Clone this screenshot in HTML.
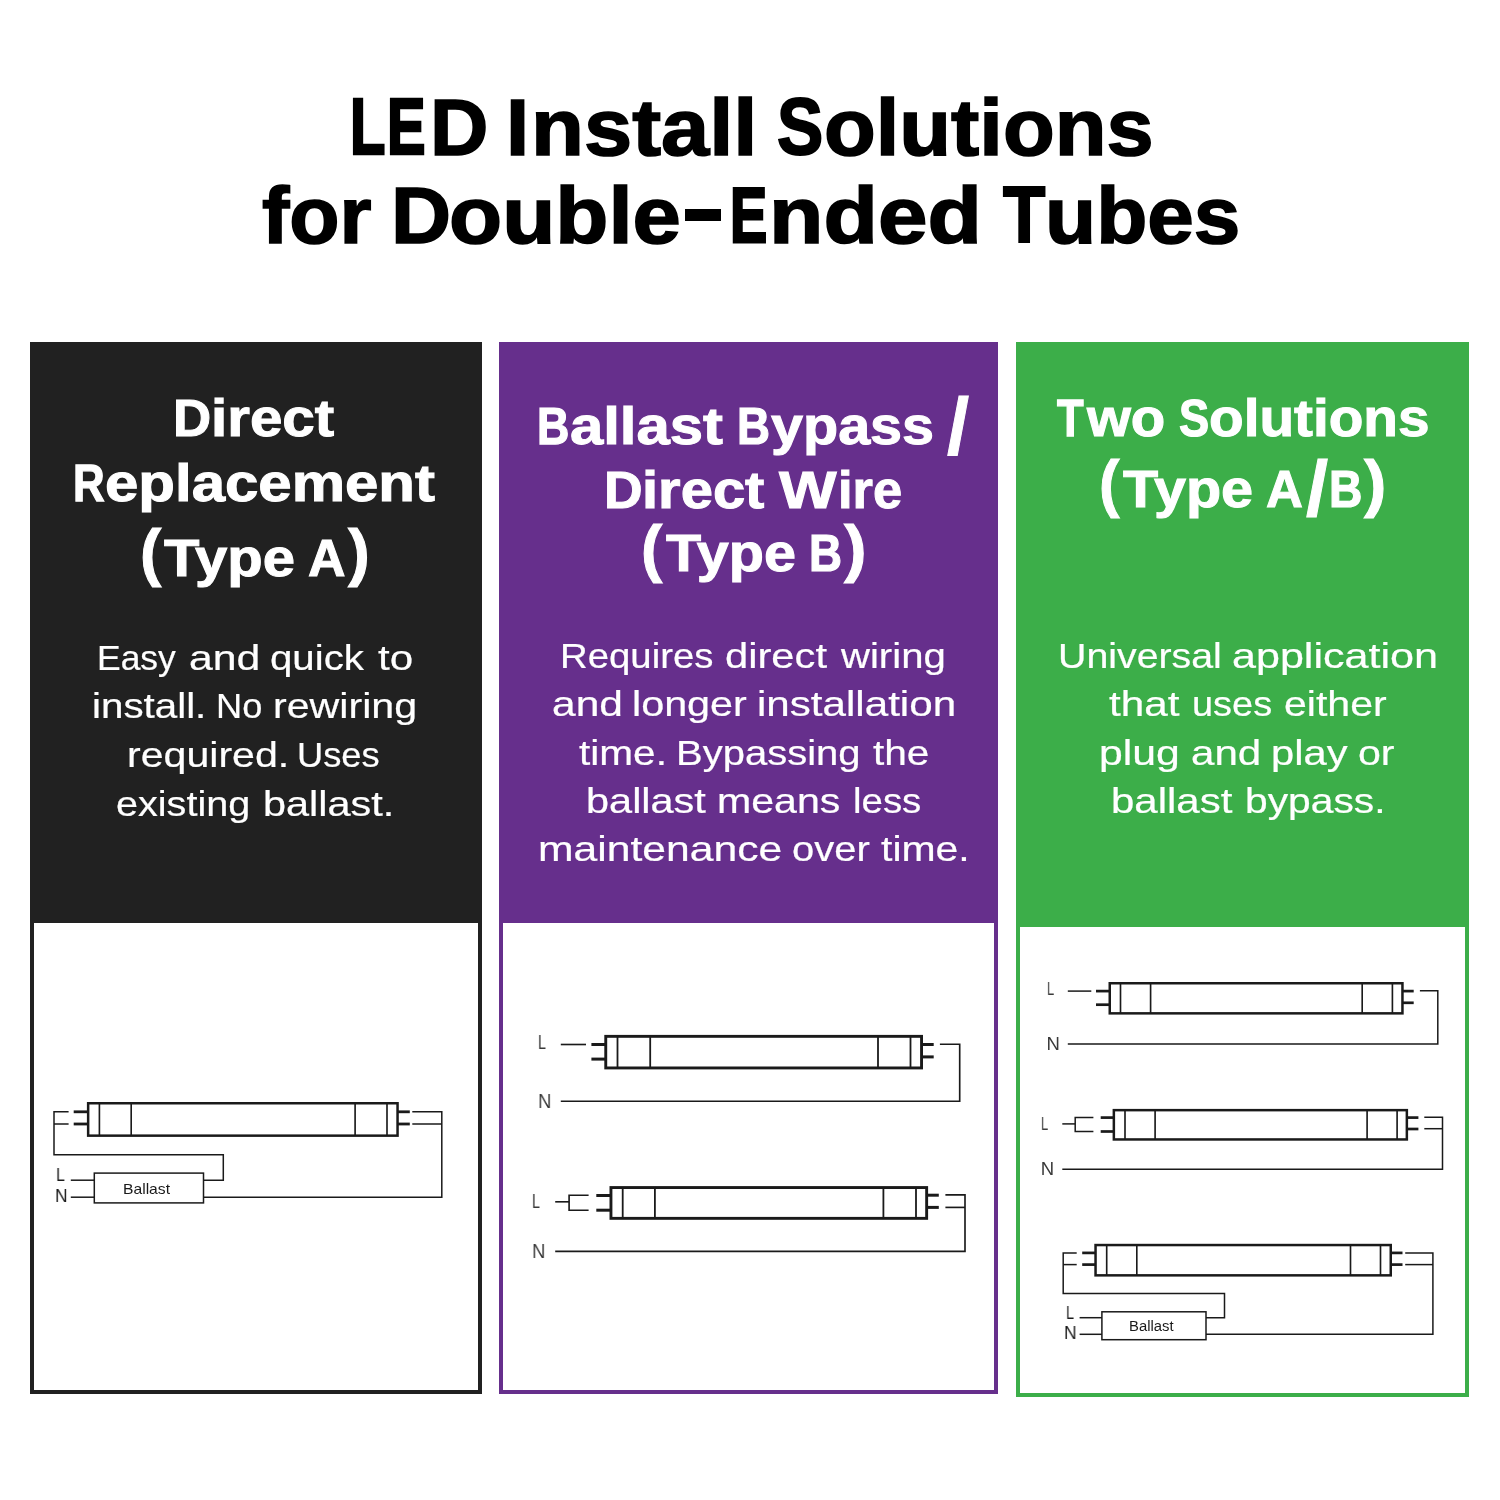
<!DOCTYPE html>
<html lang="en">
<head>
<meta charset="utf-8">
<title>LED Install Solutions for Double-Ended Tubes</title>
<style>
  html, body { margin:0; padding:0; background:#fff; }
  body { width:1500px; height:1500px; position:relative; overflow:hidden;
         font-family: "Liberation Sans", sans-serif; }
  .panel { position:absolute; margin:0; }
  .body { position:absolute; background:#fff; }
  .ln { position:absolute; left:0; margin:0; padding:0; width:1500px; height:0; line-height:1;
        white-space:nowrap; will-change:transform; -webkit-font-smoothing:antialiased; font-family: "Liberation Sans", sans-serif; }
  .t { position:absolute; top:0; display:block; white-space:nowrap; line-height:1;
       transform-origin:0 0; }
  .hy { background:#000; color:transparent; -webkit-text-stroke:0; overflow:hidden; }
  svg.dg { position:absolute; left:0; top:0; }
</style>
</head>
<body>
<section class="panel black" style="left:29.5px;top:342.0px;width:452.3px;height:1052.0px;background:#212121;"><div class="body" style="left:4.0px;top:580.7px;width:444.5px;height:467.3px;"></div></section>
<section class="panel purple" style="left:499.0px;top:342.0px;width:499.0px;height:1052.0px;background:#662f8c;"><div class="body" style="left:3.6px;top:581.0px;width:491.7px;height:467.3px;"></div></section>
<section class="panel green" style="left:1016.0px;top:342.0px;width:453.0px;height:1054.6px;background:#3cae49;"><div class="body" style="left:4.0px;top:584.7px;width:445.3px;height:465.9px;"></div></section>
<svg class="dg" width="1500" height="1500" viewBox="0 0 1500 1500" shape-rendering="geometricPrecision">
<rect x="88.15" y="1103.25" width="309.40" height="32.40" fill="#fff" stroke="#1a1a1a" stroke-width="2.5"/><line x1="99.40" y1="1103.25" x2="99.40" y2="1135.65" stroke="#1a1a1a" stroke-width="1.65"/><line x1="131.20" y1="1103.25" x2="131.20" y2="1135.65" stroke="#1a1a1a" stroke-width="1.65"/><line x1="355.10" y1="1103.25" x2="355.10" y2="1135.65" stroke="#1a1a1a" stroke-width="1.65"/><line x1="387.00" y1="1103.25" x2="387.00" y2="1135.65" stroke="#1a1a1a" stroke-width="1.65"/>
<line x1="73.70" y1="1111.80" x2="88.00" y2="1111.80" stroke="#1a1a1a" stroke-width="2.8"/><line x1="73.70" y1="1124.00" x2="88.00" y2="1124.00" stroke="#1a1a1a" stroke-width="2.8"/>
<line x1="397.50" y1="1111.80" x2="409.80" y2="1111.80" stroke="#1a1a1a" stroke-width="2.8"/><line x1="397.50" y1="1124.00" x2="409.80" y2="1124.00" stroke="#1a1a1a" stroke-width="2.8"/>
<path d="M68.6 1111.8 H54 V1154.8 H223.3 V1180.2 H203.5" fill="none" stroke="#1a1a1a" stroke-width="1.5" stroke-linejoin="miter" stroke-linecap="butt"/>
<path d="M68.6 1124 H54" fill="none" stroke="#1a1a1a" stroke-width="1.5" stroke-linejoin="miter" stroke-linecap="butt"/>
<path d="M412.3 1111.8 H441.8 V1197.2 H203.5" fill="none" stroke="#1a1a1a" stroke-width="1.5" stroke-linejoin="miter" stroke-linecap="butt"/>
<path d="M412.3 1124 H441.8" fill="none" stroke="#1a1a1a" stroke-width="1.5" stroke-linejoin="miter" stroke-linecap="butt"/>
<rect x="94.3" y="1173.1" width="109.2" height="29.8" fill="#fff" stroke="#1a1a1a" stroke-width="1.5"/>
<path d="M70.8 1180.2 H94.3" fill="none" stroke="#1a1a1a" stroke-width="1.5" stroke-linejoin="miter" stroke-linecap="butt"/>
<path d="M70.8 1197.2 H94.3" fill="none" stroke="#1a1a1a" stroke-width="1.5" stroke-linejoin="miter" stroke-linecap="butt"/>
<rect x="605.75" y="1036.35" width="315.80" height="31.60" fill="#fff" stroke="#1a1a1a" stroke-width="2.9"/><line x1="617.50" y1="1036.35" x2="617.50" y2="1067.95" stroke="#1a1a1a" stroke-width="1.7999999999999998"/><line x1="650.20" y1="1036.35" x2="650.20" y2="1067.95" stroke="#1a1a1a" stroke-width="1.7999999999999998"/><line x1="878.00" y1="1036.35" x2="878.00" y2="1067.95" stroke="#1a1a1a" stroke-width="1.7999999999999998"/><line x1="910.50" y1="1036.35" x2="910.50" y2="1067.95" stroke="#1a1a1a" stroke-width="1.7999999999999998"/>
<line x1="591.40" y1="1044.50" x2="605.50" y2="1044.50" stroke="#1a1a1a" stroke-width="3.0"/><line x1="591.40" y1="1059.10" x2="605.50" y2="1059.10" stroke="#1a1a1a" stroke-width="3.0"/>
<line x1="921.70" y1="1044.50" x2="933.70" y2="1044.50" stroke="#1a1a1a" stroke-width="3.0"/><line x1="921.70" y1="1056.90" x2="933.70" y2="1056.90" stroke="#1a1a1a" stroke-width="3.0"/>
<path d="M560.8 1044.5 H586" fill="none" stroke="#1a1a1a" stroke-width="1.65" stroke-linejoin="miter" stroke-linecap="butt"/>
<path d="M939.9 1044.2 H959.7 V1101.2 H560.8" fill="none" stroke="#1a1a1a" stroke-width="1.65" stroke-linejoin="miter" stroke-linecap="butt"/>
<rect x="610.95" y="1187.55" width="315.70" height="30.80" fill="#fff" stroke="#1a1a1a" stroke-width="2.9"/><line x1="622.70" y1="1187.55" x2="622.70" y2="1218.35" stroke="#1a1a1a" stroke-width="1.7999999999999998"/><line x1="654.90" y1="1187.55" x2="654.90" y2="1218.35" stroke="#1a1a1a" stroke-width="1.7999999999999998"/><line x1="883.40" y1="1187.55" x2="883.40" y2="1218.35" stroke="#1a1a1a" stroke-width="1.7999999999999998"/><line x1="916.00" y1="1187.55" x2="916.00" y2="1218.35" stroke="#1a1a1a" stroke-width="1.7999999999999998"/>
<line x1="596.30" y1="1195.50" x2="610.70" y2="1195.50" stroke="#1a1a1a" stroke-width="3.0"/><line x1="596.30" y1="1210.20" x2="610.70" y2="1210.20" stroke="#1a1a1a" stroke-width="3.0"/>
<line x1="926.80" y1="1195.20" x2="938.80" y2="1195.20" stroke="#1a1a1a" stroke-width="3.0"/><line x1="926.80" y1="1207.40" x2="938.80" y2="1207.40" stroke="#1a1a1a" stroke-width="3.0"/>
<path d="M555.2 1201.8 H569.1" fill="none" stroke="#1a1a1a" stroke-width="1.65" stroke-linejoin="miter" stroke-linecap="butt"/>
<path d="M588.6 1195.2 H569.1 V1210.2 H588.6" fill="none" stroke="#1a1a1a" stroke-width="1.65" stroke-linejoin="miter" stroke-linecap="butt"/>
<path d="M945.4 1194.9 H965 V1251.4 H555.2" fill="none" stroke="#1a1a1a" stroke-width="1.65" stroke-linejoin="miter" stroke-linecap="butt"/>
<path d="M945.4 1207.4 H965" fill="none" stroke="#1a1a1a" stroke-width="1.65" stroke-linejoin="miter" stroke-linecap="butt"/>
<rect x="1109.75" y="983.25" width="292.70" height="30.10" fill="#fff" stroke="#1a1a1a" stroke-width="2.5"/><line x1="1120.50" y1="983.25" x2="1120.50" y2="1013.35" stroke="#1a1a1a" stroke-width="1.65"/><line x1="1150.60" y1="983.25" x2="1150.60" y2="1013.35" stroke="#1a1a1a" stroke-width="1.65"/><line x1="1362.20" y1="983.25" x2="1362.20" y2="1013.35" stroke="#1a1a1a" stroke-width="1.65"/><line x1="1392.40" y1="983.25" x2="1392.40" y2="1013.35" stroke="#1a1a1a" stroke-width="1.65"/>
<line x1="1096.00" y1="991.10" x2="1109.70" y2="991.10" stroke="#1a1a1a" stroke-width="2.7"/><line x1="1096.00" y1="1004.70" x2="1109.70" y2="1004.70" stroke="#1a1a1a" stroke-width="2.7"/>
<line x1="1402.40" y1="991.10" x2="1413.70" y2="991.10" stroke="#1a1a1a" stroke-width="2.7"/><line x1="1402.40" y1="1002.80" x2="1413.70" y2="1002.80" stroke="#1a1a1a" stroke-width="2.7"/>
<path d="M1067.8 991.1 H1091.3" fill="none" stroke="#1a1a1a" stroke-width="1.5" stroke-linejoin="miter" stroke-linecap="butt"/>
<path d="M1419.9 990.8 H1437.8 V1043.9 H1067.8" fill="none" stroke="#1a1a1a" stroke-width="1.5" stroke-linejoin="miter" stroke-linecap="butt"/>
<rect x="1113.85" y="1110.15" width="293.00" height="29.30" fill="#fff" stroke="#1a1a1a" stroke-width="2.5"/><line x1="1125.00" y1="1110.15" x2="1125.00" y2="1139.45" stroke="#1a1a1a" stroke-width="1.65"/><line x1="1155.10" y1="1110.15" x2="1155.10" y2="1139.45" stroke="#1a1a1a" stroke-width="1.65"/><line x1="1367.10" y1="1110.15" x2="1367.10" y2="1139.45" stroke="#1a1a1a" stroke-width="1.65"/><line x1="1397.10" y1="1110.15" x2="1397.10" y2="1139.45" stroke="#1a1a1a" stroke-width="1.65"/>
<line x1="1100.70" y1="1117.60" x2="1113.80" y2="1117.60" stroke="#1a1a1a" stroke-width="2.7"/><line x1="1100.70" y1="1131.50" x2="1113.80" y2="1131.50" stroke="#1a1a1a" stroke-width="2.7"/>
<line x1="1406.80" y1="1117.60" x2="1418.40" y2="1117.60" stroke="#1a1a1a" stroke-width="2.7"/><line x1="1406.80" y1="1129.00" x2="1418.40" y2="1129.00" stroke="#1a1a1a" stroke-width="2.7"/>
<path d="M1062.3 1123.9 H1075.2" fill="none" stroke="#1a1a1a" stroke-width="1.5" stroke-linejoin="miter" stroke-linecap="butt"/>
<path d="M1093.4 1117.6 H1075.2 V1131.5 H1093.4" fill="none" stroke="#1a1a1a" stroke-width="1.5" stroke-linejoin="miter" stroke-linecap="butt"/>
<path d="M1424.3 1117.3 H1442.5 V1169.3 H1062.3" fill="none" stroke="#1a1a1a" stroke-width="1.5" stroke-linejoin="miter" stroke-linecap="butt"/>
<path d="M1424.3 1128.7 H1442.5" fill="none" stroke="#1a1a1a" stroke-width="1.5" stroke-linejoin="miter" stroke-linecap="butt"/>
<rect x="1095.55" y="1245.05" width="295.20" height="30.30" fill="#fff" stroke="#1a1a1a" stroke-width="2.5"/><line x1="1106.70" y1="1245.05" x2="1106.70" y2="1275.35" stroke="#1a1a1a" stroke-width="1.65"/><line x1="1136.80" y1="1245.05" x2="1136.80" y2="1275.35" stroke="#1a1a1a" stroke-width="1.65"/><line x1="1350.50" y1="1245.05" x2="1350.50" y2="1275.35" stroke="#1a1a1a" stroke-width="1.65"/><line x1="1380.50" y1="1245.05" x2="1380.50" y2="1275.35" stroke="#1a1a1a" stroke-width="1.65"/>
<line x1="1082.20" y1="1252.90" x2="1095.50" y2="1252.90" stroke="#1a1a1a" stroke-width="2.7"/><line x1="1082.20" y1="1264.60" x2="1095.50" y2="1264.60" stroke="#1a1a1a" stroke-width="2.7"/>
<line x1="1390.70" y1="1252.90" x2="1402.50" y2="1252.90" stroke="#1a1a1a" stroke-width="2.7"/><line x1="1390.70" y1="1264.60" x2="1402.50" y2="1264.60" stroke="#1a1a1a" stroke-width="2.7"/>
<path d="M1076.7 1252.9 H1063.2 V1293.6 H1224.5 V1317.7 H1206" fill="none" stroke="#1a1a1a" stroke-width="1.5" stroke-linejoin="miter" stroke-linecap="butt"/>
<path d="M1076.7 1264.6 H1063.2" fill="none" stroke="#1a1a1a" stroke-width="1.5" stroke-linejoin="miter" stroke-linecap="butt"/>
<path d="M1405.2 1252.9 H1432.9 V1334.3 H1206" fill="none" stroke="#1a1a1a" stroke-width="1.5" stroke-linejoin="miter" stroke-linecap="butt"/>
<path d="M1405.2 1264.6 H1432.9" fill="none" stroke="#1a1a1a" stroke-width="1.5" stroke-linejoin="miter" stroke-linecap="butt"/>
<rect x="1101.9" y="1311.8" width="104.1" height="27.9" fill="#fff" stroke="#1a1a1a" stroke-width="1.5"/>
<path d="M1079.6 1317.7 H1101.9" fill="none" stroke="#1a1a1a" stroke-width="1.5" stroke-linejoin="miter" stroke-linecap="butt"/>
<path d="M1079.6 1334.3 H1101.9" fill="none" stroke="#1a1a1a" stroke-width="1.5" stroke-linejoin="miter" stroke-linecap="butt"/>
</svg>
<h1 class="ln" style="top:86.98px;font-size:80.35px;font-weight:700;color:#000;-webkit-text-stroke:1.6px #000;"><span class="t" style="left:350.15px;top:0.73px;font-size:78.90px;-webkit-text-stroke-width:2.60px;transform:scaleX(0.7345);">L</span><span class="t" style="left:387.36px;top:0.74px;font-size:78.87px;-webkit-text-stroke-width:2.62px;transform:scaleX(0.7327);">E</span><span class="t" style="left:429.78px;transform:scaleX(1.0058);">D</span> <span class="t" style="left:506.35px;transform:scaleX(1.0368);">I</span><span class="t" style="left:530.97px;transform:scaleX(1.0790);">nstall</span> <span class="t" style="left:777.14px;top:0.29px;font-size:79.77px;-webkit-text-stroke-width:2.00px;transform:scaleX(0.8688);">S</span><span class="t" style="left:823.68px;transform:scaleX(1.0551);">olutions</span></h1>
<h1 class="ln" style="top:175.28px;font-size:80.35px;font-weight:700;color:#000;-webkit-text-stroke:1.6px #000;"><span class="t" style="left:261.80px;transform:scaleX(1.0230);">for</span> <span class="t" style="left:390.95px;transform:scaleX(1.0349);">D</span><span class="t" style="left:448.92px;transform:scaleX(1.0825);">ouble</span><span class="t hy" style="left:685.20px;top:34.22px;width:35.50px;height:11.7px;">-</span><span class="t" style="left:729.60px;top:0.84px;font-size:78.67px;-webkit-text-stroke-width:2.75px;transform:scaleX(0.7093);">E</span><span class="t" style="left:769.34px;transform:scaleX(1.1094);">nded</span> <span class="t" style="left:1002.87px;top:0.29px;font-size:79.77px;-webkit-text-stroke-width:2.00px;transform:scaleX(0.8688);">T</span><span class="t" style="left:1045.37px;transform:scaleX(1.0420);">ubes</span></h1>
<h2 class="ln" style="top:393.33px;font-size:51.82px;font-weight:700;color:#fff;-webkit-text-stroke:1.0px #fff;"><span class="t" style="left:173.45px;transform:scaleX(1.0206);">D</span><span class="t" style="left:211.18px;transform:scaleX(1.1260);">irect</span></h2>
<h2 class="ln" style="top:457.83px;font-size:51.82px;font-weight:700;color:#fff;-webkit-text-stroke:1.0px #fff;"><span class="t" style="left:73.11px;top:0.21px;font-size:51.40px;-webkit-text-stroke-width:1.29px;transform:scaleX(0.8540);">R</span><span class="t" style="left:105.06px;transform:scaleX(1.1573);">eplacement</span></h2>
<h2 class="ln" style="top:533.23px;font-size:51.82px;font-weight:700;color:#fff;-webkit-text-stroke:1.0px #fff;"><span class="t" style="left:140.24px;top:-11.00px;font-size:62.40px;transform:scaleX(1.0264);">(</span><span class="t" style="left:164.36px;transform:scaleX(1.1188);">Type</span> <span class="t" style="left:307.80px;transform:scaleX(1.0027);">A</span><span class="t" style="left:347.52px;top:-11.00px;font-size:62.40px;transform:scaleX(1.0493);">)</span></h2>
<p class="ln" style="top:640.89px;font-size:34.61px;font-weight:400;color:#fff;-webkit-text-stroke:0.22px #fff;"><span class="t" style="left:96.76px;transform:scaleX(1.0243);">Easy</span> <span class="t" style="left:188.60px;transform:scaleX(1.2348);">and</span> <span class="t" style="left:270.27px;transform:scaleX(1.1622);">quick</span> <span class="t" style="left:377.63px;transform:scaleX(1.2143);">to</span></p>
<p class="ln" style="top:689.49px;font-size:34.61px;font-weight:400;color:#fff;-webkit-text-stroke:0.22px #fff;"><span class="t" style="left:92.30px;transform:scaleX(1.1654);">install.</span> <span class="t" style="left:215.72px;transform:scaleX(1.0458);">No</span> <span class="t" style="left:273.25px;transform:scaleX(1.1893);">rewiring</span></p>
<p class="ln" style="top:738.09px;font-size:34.61px;font-weight:400;color:#fff;-webkit-text-stroke:0.22px #fff;"><span class="t" style="left:127.26px;transform:scaleX(1.1876);">required.</span> <span class="t" style="left:297.32px;transform:scaleX(1.0486);">Uses</span></p>
<p class="ln" style="top:786.59px;font-size:34.61px;font-weight:400;color:#fff;-webkit-text-stroke:0.22px #fff;"><span class="t" style="left:116.28px;transform:scaleX(1.1438);">existing</span> <span class="t" style="left:263.24px;transform:scaleX(1.1970);">ballast.</span></p>
<h2 class="ln" style="top:401.03px;font-size:51.82px;font-weight:700;color:#fff;-webkit-text-stroke:1.0px #fff;"><span class="t" style="left:537.35px;top:0.18px;font-size:51.46px;-webkit-text-stroke-width:1.25px;transform:scaleX(0.8701);">B</span><span class="t" style="left:570.42px;transform:scaleX(1.1540);">allast</span> <span class="t" style="left:736.89px;top:0.15px;font-size:51.52px;-webkit-text-stroke-width:1.21px;transform:scaleX(0.8878);">B</span><span class="t" style="left:770.56px;transform:scaleX(1.1102);">ypass</span> <span class="t" style="left:947.30px;top:-14.33px;font-size:79.46px;transform:scaleX(1.0015);">/</span></h2>
<h2 class="ln" style="top:465.43px;font-size:51.82px;font-weight:700;color:#fff;-webkit-text-stroke:1.0px #fff;"><span class="t" style="left:603.62px;transform:scaleX(1.0324);">D</span><span class="t" style="left:641.60px;transform:scaleX(1.1186);">irect</span> <span class="t" style="left:779.39px;transform:scaleX(1.1780);">W</span><span class="t" style="left:838.27px;transform:scaleX(1.0122);">ire</span></h2>
<h2 class="ln" style="top:528.23px;font-size:51.82px;font-weight:700;color:#fff;-webkit-text-stroke:1.0px #fff;"><span class="t" style="left:641.04px;top:-10.20px;font-size:62.40px;transform:scaleX(1.0264);">(</span><span class="t" style="left:665.56px;transform:scaleX(1.1103);">Type</span> <span class="t" style="left:809.09px;top:0.15px;font-size:51.52px;-webkit-text-stroke-width:1.21px;transform:scaleX(0.8878);">B</span><span class="t" style="left:844.34px;top:-10.20px;font-size:62.40px;transform:scaleX(1.0860);">)</span></h2>
<p class="ln" style="top:638.89px;font-size:34.61px;font-weight:400;color:#fff;-webkit-text-stroke:0.22px #fff;"><span class="t" style="left:559.91px;transform:scaleX(1.1076);">Requires</span> <span class="t" style="left:725.23px;transform:scaleX(1.2050);">direct</span> <span class="t" style="left:841.39px;transform:scaleX(1.1586);">wiring</span></p>
<p class="ln" style="top:687.19px;font-size:34.61px;font-weight:400;color:#fff;-webkit-text-stroke:0.22px #fff;"><span class="t" style="left:551.51px;transform:scaleX(1.2277);">and</span> <span class="t" style="left:631.95px;transform:scaleX(1.1927);">longer</span> <span class="t" style="left:757.10px;transform:scaleX(1.2175);">installation</span></p>
<p class="ln" style="top:735.59px;font-size:34.61px;font-weight:400;color:#fff;-webkit-text-stroke:0.22px #fff;"><span class="t" style="left:579.13px;transform:scaleX(1.1721);">time.</span> <span class="t" style="left:675.92px;transform:scaleX(1.1554);">Bypassing</span> <span class="t" style="left:873.03px;transform:scaleX(1.1724);">the</span></p>
<p class="ln" style="top:783.89px;font-size:34.61px;font-weight:400;color:#fff;-webkit-text-stroke:0.22px #fff;"><span class="t" style="left:585.54px;transform:scaleX(1.1982);">ballast</span> <span class="t" style="left:716.96px;transform:scaleX(1.1877);">means</span> <span class="t" style="left:852.60px;transform:scaleX(1.1100);">less</span></p>
<p class="ln" style="top:832.19px;font-size:34.61px;font-weight:400;color:#fff;-webkit-text-stroke:0.22px #fff;"><span class="t" style="left:537.97px;transform:scaleX(1.2324);">maintenance</span> <span class="t" style="left:792.07px;transform:scaleX(1.1557);">over</span> <span class="t" style="left:881.23px;transform:scaleX(1.1832);">time.</span></p>
<h2 class="ln" style="top:393.43px;font-size:51.82px;font-weight:700;color:#fff;-webkit-text-stroke:1.0px #fff;"><span class="t" style="left:1056.55px;top:0.22px;font-size:51.38px;-webkit-text-stroke-width:1.30px;transform:scaleX(0.8477);">T</span><span class="t" style="left:1086.93px;transform:scaleX(1.0885);">wo</span> <span class="t" style="left:1178.67px;top:0.17px;font-size:51.49px;-webkit-text-stroke-width:1.23px;transform:scaleX(0.8782);">S</span><span class="t" style="left:1209.36px;transform:scaleX(1.0944);">olutions</span></h2>
<h2 class="ln" style="top:463.63px;font-size:51.82px;font-weight:700;color:#fff;-webkit-text-stroke:1.0px #fff;"><span class="t" style="left:1098.81px;top:-11.67px;font-size:63.03px;transform:scaleX(0.9775);">(</span><span class="t" style="left:1123.26px;transform:scaleX(1.1111);">Type</span> <span class="t" style="left:1266.01px;transform:scaleX(0.9865);">A</span><span class="t" style="left:1305.51px;top:-14.51px;font-size:78.39px;transform:scaleX(1.0145);">/</span><span class="t" style="left:1329.36px;top:0.14px;font-size:51.54px;-webkit-text-stroke-width:1.19px;transform:scaleX(0.8967);">B</span><span class="t" style="left:1364.03px;top:-11.67px;font-size:63.03px;transform:scaleX(1.0652);">)</span></h2>
<p class="ln" style="top:638.79px;font-size:34.61px;font-weight:400;color:#fff;-webkit-text-stroke:0.22px #fff;"><span class="t" style="left:1057.85px;transform:scaleX(1.1358);">Universal</span> <span class="t" style="left:1232.49px;transform:scaleX(1.2447);">application</span></p>
<p class="ln" style="top:687.29px;font-size:34.61px;font-weight:400;color:#fff;-webkit-text-stroke:0.22px #fff;"><span class="t" style="left:1109.33px;transform:scaleX(1.2189);">that</span> <span class="t" style="left:1191.93px;transform:scaleX(1.0955);">uses</span> <span class="t" style="left:1284.44px;transform:scaleX(1.1857);">either</span></p>
<p class="ln" style="top:735.59px;font-size:34.61px;font-weight:400;color:#fff;-webkit-text-stroke:0.22px #fff;"><span class="t" style="left:1099.46px;transform:scaleX(1.2355);">plug</span> <span class="t" style="left:1190.72px;transform:scaleX(1.2151);">and</span> <span class="t" style="left:1270.92px;transform:scaleX(1.2050);">play</span> <span class="t" style="left:1358.24px;transform:scaleX(1.1877);">or</span></p>
<p class="ln" style="top:783.59px;font-size:34.61px;font-weight:400;color:#fff;-webkit-text-stroke:0.22px #fff;"><span class="t" style="left:1111.01px;transform:scaleX(1.2134);">ballast</span> <span class="t" style="left:1244.97px;transform:scaleX(1.1778);">bypass.</span></p>
<span class="ln" style="top:1165.42px;font-size:19px;font-weight:400;color:#1a1a1a;"><span class="t" style="left:56.46px;transform:scaleX(0.8444);">L</span></span>
<span class="ln" style="top:1185.92px;font-size:19px;font-weight:400;color:#1a1a1a;"><span class="t" style="left:55.18px;transform:scaleX(0.9167);">N</span></span>
<span class="ln" style="top:1181.83px;font-size:14.5px;font-weight:400;color:#1a1a1a;"><span class="t" style="left:123.22px;transform:scaleX(1.0802);">Ballast</span></span>
<span class="ln" style="top:1031.55px;font-size:20.5px;font-weight:400;color:#3a3a3a;"><span class="t" style="left:538.11px;transform:scaleX(0.6900);">L</span></span>
<span class="ln" style="top:1090.65px;font-size:20.5px;font-weight:400;color:#3a3a3a;"><span class="t" style="left:538.20px;transform:scaleX(0.9000);">N</span></span>
<span class="ln" style="top:1191.45px;font-size:20.5px;font-weight:400;color:#3a3a3a;"><span class="t" style="left:532.21px;transform:scaleX(0.6900);">L</span></span>
<span class="ln" style="top:1240.65px;font-size:20.5px;font-weight:400;color:#3a3a3a;"><span class="t" style="left:532.00px;transform:scaleX(0.9000);">N</span></span>
<span class="ln" style="top:979.54px;font-size:18.5px;font-weight:400;color:#3a3a3a;"><span class="t" style="left:1046.90px;transform:scaleX(0.7000);">L</span></span>
<span class="ln" style="top:1034.84px;font-size:18.5px;font-weight:400;color:#3a3a3a;"><span class="t" style="left:1046.60px;transform:scaleX(1.0000);">N</span></span>
<span class="ln" style="top:1114.84px;font-size:18.5px;font-weight:400;color:#3a3a3a;"><span class="t" style="left:1041.00px;transform:scaleX(0.7000);">L</span></span>
<span class="ln" style="top:1160.24px;font-size:18.5px;font-weight:400;color:#3a3a3a;"><span class="t" style="left:1040.70px;transform:scaleX(1.0000);">N</span></span>
<span class="ln" style="top:1303.94px;font-size:18.5px;font-weight:400;color:#1a1a1a;"><span class="t" style="left:1065.62px;transform:scaleX(0.7778);">L</span></span>
<span class="ln" style="top:1323.74px;font-size:18.5px;font-weight:400;color:#1a1a1a;"><span class="t" style="left:1064.25px;transform:scaleX(0.9455);">N</span></span>
<span class="ln" style="top:1319.62px;font-size:13.8px;font-weight:400;color:#1a1a1a;"><span class="t" style="left:1129.13px;transform:scaleX(1.0745);">Ballast</span></span>
</body>
</html>
